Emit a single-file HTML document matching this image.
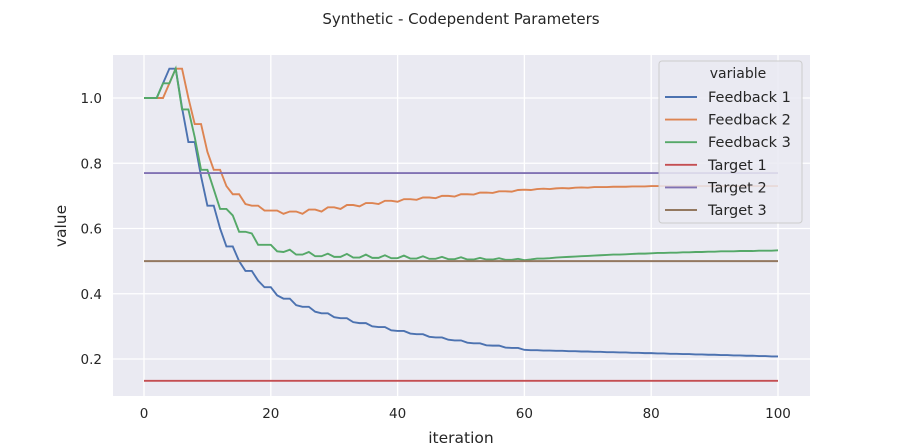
<!DOCTYPE html>
<html><head><meta charset="utf-8"><style>
body{margin:0;background:#fff;}
svg{display:block;font-family:"DejaVu Sans","Liberation Sans",sans-serif;}
</style></head><body>
<svg id="chart" width="900" height="446" viewBox="0 0 900 446">
<text x="461" y="24" text-anchor="middle" font-size="15" fill="#262626">Synthetic - Codependent Parameters</text>
<rect x="113" y="55" width="697" height="341" fill="#eaeaf2"/>
<g id="grid"></g><g id="ticks"></g><g id="lines"></g>
<text x="461" y="443" text-anchor="middle" font-size="15.5" fill="#262626">iteration</text>
<text x="66" y="226" text-anchor="middle" font-size="15.5" fill="#262626" transform="rotate(-90 66 226)">value</text>
<g id="legend"></g>
</svg>
<script>
const seriesNames=["Feedback 1","Feedback 2","Feedback 3","Target 1","Target 2","Target 3"];
const xTicks=[0,20,40,60,80,100];
const yTicks=[0.2,0.4,0.6,0.8,1.0];
const feedback1=[1,1,1,1.045,1.09,1.09,0.97,0.865,0.865,0.76,0.67,0.67,0.60,0.545,0.545,0.50,0.47,0.47,0.44,0.42,0.42,0.395,0.385,0.385,0.365,0.36,0.36,0.345,0.34,0.34,0.328,0.325,0.325,0.313,0.31,0.31,0.30,0.298,0.298,0.288,0.286,0.286,0.278,0.276,0.276,0.268,0.266,0.266,0.259,0.257,0.257,0.25,0.248,0.248,0.242,0.241,0.241,0.235,0.234,0.234,0.228,0.227,0.227,0.226,0.226,0.225,0.225,0.224,0.224,0.223,0.223,0.222,0.222,0.221,0.221,0.220,0.220,0.219,0.219,0.218,0.218,0.217,0.217,0.216,0.216,0.215,0.215,0.214,0.214,0.213,0.213,0.212,0.212,0.211,0.211,0.210,0.210,0.209,0.209,0.208,0.208];
const feedback2=[1,1,1,1,1.045,1.09,1.09,1.0,0.92,0.92,0.835,0.78,0.78,0.73,0.705,0.705,0.675,0.67,0.67,0.655,0.655,0.655,0.645,0.652,0.652,0.645,0.658,0.658,0.652,0.665,0.665,0.66,0.672,0.672,0.668,0.678,0.678,0.675,0.685,0.685,0.682,0.69,0.69,0.688,0.695,0.695,0.693,0.70,0.70,0.698,0.705,0.705,0.704,0.71,0.71,0.709,0.714,0.714,0.713,0.718,0.719,0.718,0.721,0.722,0.721,0.723,0.724,0.723,0.725,0.726,0.725,0.727,0.727,0.727,0.728,0.728,0.728,0.729,0.729,0.729,0.73,0.73,0.73,0.73,0.73,0.73,0.73,0.73,0.73,0.73,0.73,0.73,0.73,0.73,0.73,0.73,0.73,0.73,0.73,0.73,0.73];
const feedback3=[1,1,1,1.045,1.045,1.09,0.965,0.965,0.88,0.78,0.78,0.72,0.66,0.66,0.64,0.59,0.59,0.585,0.55,0.55,0.55,0.53,0.528,0.535,0.52,0.52,0.528,0.515,0.515,0.523,0.513,0.513,0.522,0.511,0.511,0.52,0.51,0.51,0.518,0.509,0.509,0.517,0.508,0.508,0.515,0.507,0.507,0.513,0.506,0.506,0.512,0.505,0.505,0.51,0.505,0.505,0.509,0.504,0.504,0.507,0.503,0.505,0.508,0.508,0.509,0.511,0.512,0.513,0.514,0.515,0.516,0.517,0.518,0.519,0.52,0.52,0.521,0.522,0.523,0.523,0.524,0.525,0.525,0.526,0.526,0.527,0.527,0.528,0.528,0.529,0.529,0.53,0.53,0.53,0.531,0.531,0.531,0.532,0.532,0.532,0.533];
const targets=[0.133,0.77,0.5];
const colors=["#4c72b0","#dd8452","#55a868","#c44e52","#8172b3","#937860"];
const NS="http://www.w3.org/2000/svg";
function X(v){return 144+v*6.34;}
function Y(v){return 98+(1-v)*326.25;}
function mk(tag,attrs,parent){const e=document.createElementNS(NS,tag);for(const k in attrs)e.setAttribute(k,attrs[k]);parent.appendChild(e);return e;}
const grid=document.getElementById('grid'),ticks=document.getElementById('ticks'),lines=document.getElementById('lines'),legend=document.getElementById('legend');
xTicks.forEach(t=>{
  const g=mk('line',{x1:X(t),x2:X(t),y1:55,y2:396,stroke:'#fff','stroke-width':1.3},grid);
  
  
  const l=mk('text',{x:X(t),y:418,'text-anchor':'middle','font-size':13.5,fill:'#262626'},ticks);
  l.textContent=t;
  
  
});
yTicks.forEach(t=>{
  const g=mk('line',{x1:113,x2:810,y1:Y(t),y2:Y(t),stroke:'#fff','stroke-width':1.3},grid);
  
  
  const l=mk('text',{x:102,y:Y(t)+5,'text-anchor':'end','font-size':13.5,fill:'#262626'},ticks);
  l.textContent=t.toFixed(1);
  
  
});
const allSeries=[feedback1,feedback2,feedback3];
allSeries.forEach((s,i)=>{
  const p=mk('polyline',{points:s.map((v,k)=>X(k)+','+Y(v)).join(' '),fill:'none',stroke:colors[i],'stroke-width':1.9},lines);
  
  
});
targets.forEach((v,i)=>{
  const p=mk('line',{x1:X(0),x2:X(100),y1:Y(v),y2:Y(v),stroke:colors[i+3],'stroke-width':1.9},lines);
  
  
});
const box=mk('rect',{x:659,y:61,width:143,height:162,rx:3,fill:'#eaeaf2','fill-opacity':0.85,stroke:'#cccccc'},legend);


const tt=mk('text',{x:738,y:78,'text-anchor':'middle','font-size':14,fill:'#262626'},legend);
tt.textContent='variable';


seriesNames.forEach((n,i)=>{
  const y=97+i*22.6;
  const ln=mk('line',{x1:665,x2:697,y1:y,y2:y,stroke:colors[i],'stroke-width':1.9},legend);
  
  
  const t=mk('text',{x:708,y:y+5,'font-size':14.5,fill:'#262626'},legend);
  t.textContent=n;
  
  
});
</script>
</body></html>
